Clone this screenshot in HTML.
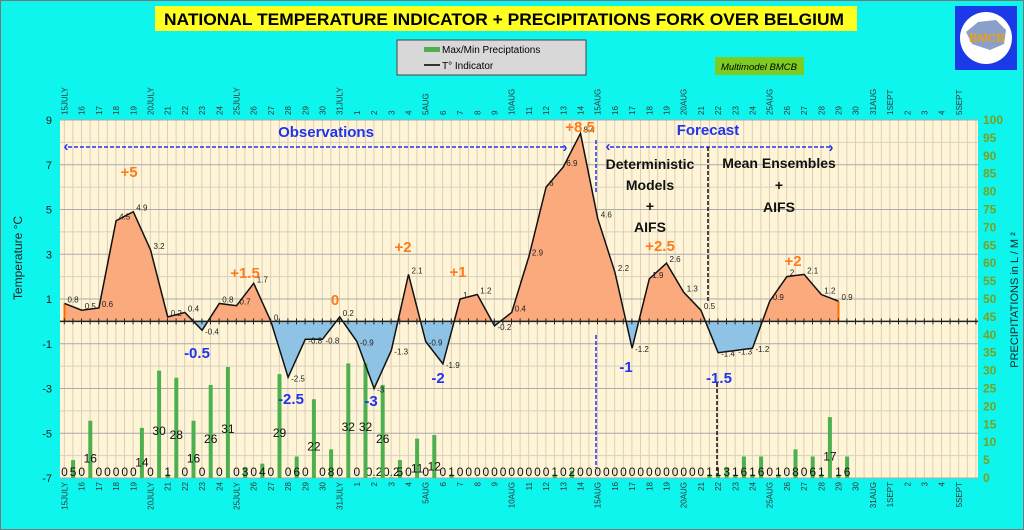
<!DOCTYPE html>
<html><head><meta charset="utf-8"><style>
body{margin:0;background:#0ef5ee;}
svg{display:block;font-family:"Liberation Sans",sans-serif;}
</style></head><body>
<svg id="c" width="1024" height="530" viewBox="0 0 1024 530">
<rect x="0" y="0" width="1024" height="530" fill="#0ef5ee" stroke="#777" stroke-width="2"/>
<rect x="155" y="6" width="702" height="25" fill="#ffff22"/>
<text x="504" y="25" text-anchor="middle" font-size="17" font-weight="bold" textLength="680" lengthAdjust="spacingAndGlyphs">NATIONAL TEMPERATURE INDICATOR + PRECIPITATIONS FORK OVER  BELGIUM</text>
<g>
<rect x="397" y="40" width="189" height="35" fill="#d8d8d8" stroke="#444"/>
<rect x="424" y="47" width="16" height="5" fill="#4caf50"/>
<text x="442" y="53" font-size="10">Max/Min Preciptations</text>
<line x1="424" y1="65" x2="440" y2="65" stroke="#333" stroke-width="2"/>
<text x="442" y="69" font-size="10">T° Indicator</text>
</g>
<rect x="715" y="57" width="89" height="18" fill="#7ccc22"/>
<text x="759" y="70" text-anchor="middle" font-size="9.5" font-style="italic">Multimodel BMCB</text>
<g>
<rect x="955" y="6" width="62" height="64" fill="#1a3ae8"/>
<circle cx="986" cy="38" r="26" fill="#fff"/>
<path d="M966 32 L978 22 L996 20 L1006 30 L1004 44 L990 50 L972 44 Z" fill="#8aa0c8"/>
<text x="987" y="42" text-anchor="middle" font-size="12" font-weight="bold" fill="#e6a020">BMCB</text>
</g>
<rect x="60" y="120" width="918" height="358" fill="#fff5d6"/>
<g id="grid"></g>
<g id="areas"></g>
<g id="bars"></g>
<g id="line"></g>
<g id="axes"></g>
<g id="annot"></g>
</svg>
<script>
const dayLabels=["15JULY","16","17","18","19","20JULY","21","22","23","24","25JULY","26","27","28","29","30","31JULY","1","2","3","4","5AUG","6","7","8","9","10AUG","11","12","13","14","15AUG","16","17","18","19","20AUG","21","22","23","24","25AUG","26","27","28","29","30","31AUG","1SEPT","2","3","4","5SEPT"];
const tempValues=[0.8,0.5,0.6,4.5,4.9,3.2,0.2,0.4,-0.4,0.8,0.7,1.7,0,-2.5,-0.8,-0.8,0.2,-0.9,-3,-1.3,2.1,-0.9,-1.9,1,1.2,-0.2,0.4,2.9,6,6.9,8.4,4.6,2.2,-1.2,1.9,2.6,1.3,0.5,-1.4,-1.3,-1.2,0.9,2,2.1,1.2,0.9];
const precipMin=[0,0,0,0,0,0,1,0,0,0,0,0,0,0,0,0,0,0,0.2,0.2,0,0,0,0,0,0,0,0,0,0,0,0,0,0,0,0,0,0,1,1,1,0,0,0,1,1];
const precipMax=[5,16,0,0,14,30,28,16,26,31,3,4,29,6,22,8,32,32,26,5,11,12,1,0,0,0,0,0,1,2,0,0,0,0,0,0,0,1,3,6,6,1,8,6,17,6];
const tempTicks=[9,7,5,3,1,-1,-3,-5,-7];
const precipTicks=[100,95,90,85,80,75,70,65,60,55,50,45,40,35,30,25,20,15,10,5,0];

const NS="http://www.w3.org/2000/svg";
const X0=64.5,DX=17.2,PL=60,PR=978,PT=120,PB=478;
const xd=d=>X0+d*DX;
const yt=t=>PT+(9-t)*(PB-PT)/16;
const yp=p=>PB-p*(PB-PT)/100;
function mk(tag,attrs,parent,txt){const e=document.createElementNS(NS,tag);for(const k in attrs)e.setAttribute(k,attrs[k]);if(txt!==undefined)e.textContent=txt;parent.appendChild(e);return e;}
const G=id=>document.getElementById(id);

const grid=G('grid');
for(let i=0;i<=107;i++){const x=PL+4.3+i*DX/2;if(x>PR)break;const l=mk('line',{x1:x,x2:x,y1:PT,y2:PB,stroke:'#d4ccba','stroke-width':0.9},grid);}
for(let t=-7;t<=9;t++){const l=mk('line',{x1:PL,x2:PR,y1:yt(t),y2:yt(t),stroke:t%2?'#aaa':'#d8d0c0','stroke-width':1},grid);}

const areas=G('areas');
const cp=mk('clipPath',{id:'pos'},areas);mk('rect',{x:0,y:0,width:1024,height:yt(0)},cp);
const cn=mk('clipPath',{id:'neg'},areas);mk('rect',{x:0,y:yt(0),width:1024,height:530},cn);
let pts=tempValues.map((v,i)=>xd(i)+','+yt(v)).join(' ');
const poly=xd(0)+','+yt(0)+' '+pts+' '+xd(tempValues.length-1)+','+yt(0);
const pa=mk('polygon',{points:poly,fill:'#fbaa7e','clip-path':'url(#pos)'},areas);

const na=mk('polygon',{points:poly,fill:'#8ec3e6','clip-path':'url(#neg)'},areas);

mk('line',{x1:xd(0),x2:xd(0),y1:yt(0),y2:yt(tempValues[0]),stroke:'#ff6a00','stroke-width':2},areas);
const le=tempValues.length-1;
mk('line',{x1:xd(le),x2:xd(le),y1:yt(0),y2:yt(tempValues[le]),stroke:'#ff6a00','stroke-width':2},areas);

const bars=G('bars');
function bar(d,v,name){
  const x=xd(d);
  if(v>0){const r=mk('rect',{x:x-2,y:yp(v),width:4,height:PB-yp(v),fill:'#4caf50'},bars);}
  const t=mk('text',{x:x,y:PB-2,'text-anchor':'middle','font-size':12,fill:'#111'},bars,String(v));
  if(v>1){t.setAttribute('y',Math.min(PB-2,yp(v)+(PB-yp(v))*0.45+16));}
  
}
precipMin.forEach((v,i)=>bar(i,v,'precip-min-bar'));
precipMax.forEach((v,i)=>bar(i+0.5,v,'precip-max-bar'));

const ln=G('line');
const pl=mk('polyline',{points:pts,fill:'none',stroke:'#111','stroke-width':1.5},ln);

tempValues.forEach((v,i)=>{const t=mk('text',{x:xd(i)+3,y:yt(v)+(v>=0?-1:4),'font-size':8,fill:'#222'},ln,String(v));});

const ax=G('axes');
const zl=mk('line',{x1:PL,x2:PR,y1:yt(0),y2:yt(0),stroke:'#222','stroke-width':1.5},ax);
for(let i=0;i<=107;i++){const x=PL+4.3+i*DX/2;if(x>PR)break;mk('line',{x1:x,x2:x,y1:yt(0)-3,y2:yt(0)+3,stroke:'#222','stroke-width':1},ax);}
tempTicks.forEach(t=>{const e=mk('text',{x:52,y:yt(t)+4,'text-anchor':'end','font-size':11,fill:'#222'},ax,String(t));});
precipTicks.forEach(p=>{const e=mk('text',{x:983,y:yp(p)+4,'font-size':12,'font-weight':'bold',fill:'#7aa020'},ax,String(p));});
dayLabels.forEach((l,i)=>{const x=xd(i)+3;
 const a=mk('text',{x:x,y:115,'font-size':8,fill:'#333',transform:`rotate(-90 ${x} 115)`},ax,l);
 const b=mk('text',{x:x,y:482,'font-size':8,fill:'#333','text-anchor':'end',transform:`rotate(-90 ${x} 482)`},ax,l);});
const yl=mk('text',{x:22,y:258,'text-anchor':'middle','font-size':12,fill:'#222',transform:'rotate(-90 22 258)','xml:space':'preserve'},ax,'Temperature     °C');
const yr=mk('text',{x:1018,y:300,'text-anchor':'middle','font-size':11,fill:'#222',transform:'rotate(-90 1018 300)'},ax,'PRECIPITATIONS in L / M ²');
</script>
<script>
const an=document.getElementById('annot');
function T(x,y,s,size,fill,name){const e=mk('text',{x:x,y:y,'text-anchor':'middle','font-size':size,'font-weight':'bold',fill:fill},an,s);return e;}
function D(x1,y1,x2,y2,c,name){const e=mk('line',{x1,y1,x2,y2,stroke:c,'stroke-width':1.5,'stroke-dasharray':'4,2'},an);}
D(68,147,565,147,'#2233ee','observations-arrow');T(66,151,'‹',15,'#2233ee','arrow-head');T(565,152,'›',15,'#2233ee','arrow-head');
D(610,147,830,147,'#2233ee','forecast-arrow');T(608,151,'‹',15,'#2233ee','arrow-head');T(831,152,'›',15,'#2233ee','arrow-head');
D(596,140,596,192,'#2233ee','split-arrow-top');D(596,335,596,468,'#2233ee','split-arrow-bottom');
D(708,147,708,302,'#111','ensemble-divider');D(717,383,717,475,'#111','ensemble-divider-bottom');
T(326,137,'Observations',15,'#2233ee','observations-label');T(708,135,'Forecast',15,'#2233ee','forecast-label');
T(650,169,'Deterministic',14,'#111','deterministic-label');T(650,190,'Models',14,'#111','models-label');T(650,211,'+',14,'#111','plus');T(650,232,'AIFS',14,'#111','aifs-label');
T(779,168,'Mean Ensembles',14,'#111','ensembles-label');T(779,190,'+',14,'#111','plus');T(779,212,'AIFS',14,'#111','aifs-label');
[[129,177,'+5'],[245,278,'+1.5'],[335,305,'0'],[403,252,'+2'],[458,277,'+1'],[580,132,'+8.5'],[660,251,'+2.5'],[793,266,'+2']].forEach(a=>T(a[0],a[1],a[2],15,'#ff7a1a','warm-peak-label'));
[[197,358,'-0.5'],[291,404,'-2.5'],[371,406,'-3'],[438,383,'-2'],[626,372,'-1'],[719,383,'-1.5']].forEach(a=>T(a[0],a[1],a[2],15,'#2233ee','cold-peak-label'));
</script>
</body></html>
